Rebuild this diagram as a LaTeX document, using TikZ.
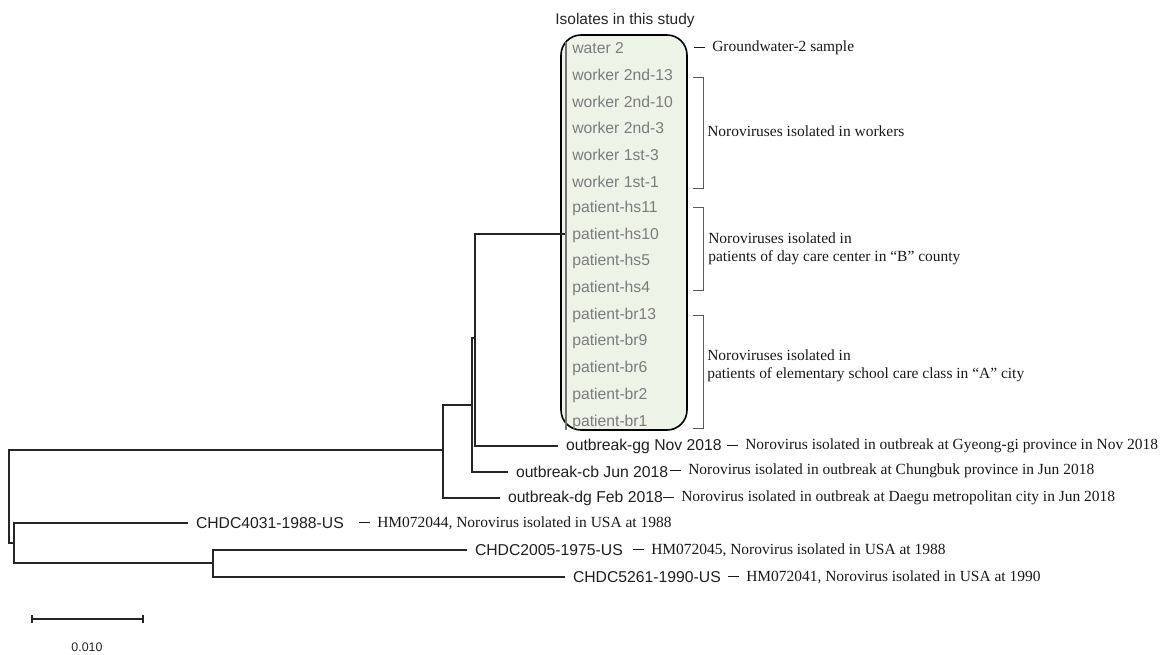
\documentclass[tikz,border=0pt]{standalone}
\usepackage{fontspec}
\setmainfont{Liberation Serif}
\setsansfont{Liberation Sans}
\definecolor{boxfill}{HTML}{EEF3E8}
\definecolor{isogray}{HTML}{7C7C7C}
\newcommand\dsh{\rule[0.27em]{8pt}{0.75pt}\hspace{5.5pt}}
\begin{document}
\begin{tikzpicture}[x=0.75pt,y=-0.75pt,
  br/.style={line width=0.8pt, black!85},
  brk/.style={line width=0.6pt, black!65},
  iso/.style={font=\sffamily\fontsize{11.8}{13}\selectfont, text=isogray, anchor=west, inner sep=0pt},
  lbl/.style={font=\sffamily\fontsize{11.8}{13}\selectfont, text=black!88, anchor=west, inner xsep=0pt, inner ysep=0pt, outer xsep=6pt},
  desc/.style={font=\rmfamily\fontsize{11.6}{13.5}\selectfont, text=black!90, anchor=west, inner sep=0pt, align=left}
]
\useasboundingbox (0,0) rectangle (1161,654);

% box of isolates
\draw[line width=1.2pt, fill=boxfill, rounded corners=15pt] (561,35) rectangle (687,430);
\node[font=\sffamily\fontsize{11.6}{13}\selectfont, text=black!85] (title) at (625,20) {Isolates in this study};

% isolate labels
\foreach \t [count=\i] in {water 2, worker 2nd-13, worker 2nd-10, worker 2nd-3, worker 1st-3, worker 1st-1,
  patient-hs11, patient-hs10, patient-hs5, patient-hs4, patient-br13, patient-br9, patient-br6, patient-br2, patient-br1}
  \node[iso] (i\i) at (572,{48+26.71*(\i-1)}) {\t};

% internal nodes
\coordinate (R) at (9,496);
\coordinate (A) at (443,450);
\coordinate (B) at (472,405);
\coordinate (C) at (475,338);
\coordinate (D) at (566,234);
\coordinate (E) at (14,543);
\coordinate (F) at (213,563);

% leaf labels
\node[lbl] (gg) at (558,446) {outbreak-gg Nov 2018};
\node[lbl] (cb) at (508,472) {outbreak-cb Jun 2018};
\node[lbl] (dg) at (500,498) {outbreak-dg Feb 2018};
\node[lbl] (c4031) at (188,523) {CHDC4031-1988-US};
\node[lbl] (c2005) at (467,550) {CHDC2005-1975-US};
\node[lbl] (c5261) at (565,577) {CHDC5261-1990-US};

% tree branches
\draw[br] (A) -| (R) |- (E);
\draw[br] (B) -| (A) |- (dg.west);
\draw[br] (C) -| (B) |- (cb.west);
\draw[br] (D) -| (C) |- (gg.west);
\draw[br] (c4031.west) -| (E) |- (F);
\draw[br] (c2005.west) -| (F) |- (c5261.west);
\draw[line width=0.8pt, black!55] (D |- i1.north) -- (D |- i15.south);

% descriptions
\node[desc] (dw) at (694,48) {\dsh Groundwater-2 sample};
\node[desc] (dgg) at (727,446) {\dsh Norovirus isolated in outbreak at Gyeong-gi province in Nov 2018};
\node[desc] (dcb) at (670,471) {\dsh Norovirus isolated in outbreak at Chungbuk province in Jun 2018};
\node[desc] (ddg) at (663,498) {\dsh Norovirus isolated in outbreak at Daegu metropolitan city in Jun 2018};
\node[desc] (d4031) at (359,523) {\dsh HM072044, Norovirus isolated in USA at 1988};
\node[desc] (d2005) at (633,550) {\dsh HM072045, Norovirus isolated in USA at 1988};
\node[desc] (d5261) at (728,577) {\dsh HM072041, Norovirus isolated in USA at 1990};

% brackets
\draw[brk] (693,77) -- (703,77) -- (703,188) -- (693,188);
\draw[brk] (693,207) -- (703,207) -- (703,290) -- (693,290);
\draw[brk] (693,315) -- (703,315) -- (703,428) -- (693,428);
\node[desc] (bw) at (707,131) {Noroviruses isolated in workers};
\node[desc] (bhs) at (708,249) {Noroviruses isolated in\\patients of day care center in “B” county};
\node[desc] (bbr) at (707,366) {Noroviruses isolated in\\patients of elementary school care class in “A” city};

% scale bar
\coordinate (s1) at (32,619);
\coordinate (s2) at (143,619);
\draw[br] (s1) -- (s2);
\draw[br] ([yshift=-3pt]s1) -- ([yshift=3pt]s1);
\draw[br] ([yshift=-3pt]s2) -- ([yshift=3pt]s2);
\node[font=\sffamily\fontsize{9.3}{10}\selectfont, text=black!85] (sc) at (87,647) {0.010};
\end{tikzpicture}
\end{document}
